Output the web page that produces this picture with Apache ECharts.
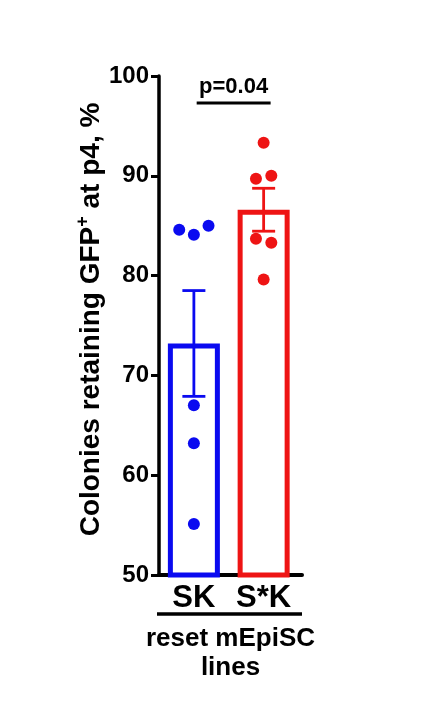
<!DOCTYPE html>
<html>
<head>
<meta charset="utf-8">
<script src="https://cdn.jsdelivr.net/npm/echarts@6/dist/echarts.min.js"></script>
<style>
html,body{margin:0;padding:0;background:#fff;}
#c{width:443px;height:711px;}
</style>
</head>
<body>
<div id="c"></div>
<script>
const categories = ['SK', 'S*K'];
const colors = ['#0a0af0', '#ee1414'];
const means = [73.2, 86.6];
const sems = [5.3, 2.15];
const skPoints = [84.6, 84.1, 85.0, 67.0, 63.2, 55.1];
const skOffsets = [-0.21, 0, 0.21, 0, 0, 0];
const sksPoints = [93.3, 89.7, 90.0, 83.7, 83.3, 79.6];
const sksOffsets = [0, -0.11, 0.11, -0.11, 0.11, 0];
const yTicks = [50, 60, 70, 80, 90, 100];
const pText = 'p=0.04';
const pBracket = [0.04, 1.1, 97.3];

const FONT = 'Liberation Sans';
const chart = echarts.init(document.getElementById('c'));

const scatterData = (pts, offs, idx) => pts.map((v, i) => [idx + offs[i], v]);

chart.setOption({
  animation: false,
  backgroundColor: '#fff',
  grid: { left: 159, right: 141, top: 76, bottom: 136 },
  xAxis: {
    type: 'value', min: -0.5, max: 1.55, interval: 0.5,
    splitLine: { show: false },
    axisLine: { show: true, onZero: false, lineStyle: { color: '#000', width: 4 } },
    axisTick: { show: false },
    axisLabel: {
      formatter: (v) => (Math.abs(v - Math.round(v)) < 1e-6 && categories[Math.round(v)] !== undefined && v >= 0) ? categories[Math.round(v)] : '',
      showMaxLabel: false,
      color: '#000', fontFamily: FONT, fontWeight: 'bold', fontSize: 31, margin: 8
    },
    name: 'reset mEpiSC\nlines', nameLocation: 'middle', nameGap: 49,
    nameTextStyle: { color: '#000', fontFamily: FONT, fontWeight: 'bold', fontSize: 26, lineHeight: 29 }
  },
  yAxis: {
    type: 'value', min: yTicks[0], max: yTicks[yTicks.length - 1], interval: 10,
    axisLine: { show: true, onZero: false, lineStyle: { color: '#000', width: 3.5 } },
    axisTick: { show: true, length: 8, lineStyle: { color: '#000', width: 3 } },
    splitLine: { show: false },
    axisLabel: { color: '#000', fontFamily: FONT, fontWeight: 'bold', fontSize: 24, margin: 10 },
    name: '{a|Colonies retaining GFP}{s|+}{a| at p4, %}',
    nameLocation: 'middle', nameGap: 46, nameRotate: 90,
    nameTextStyle: {
      padding: [0, 0, 0, 12],
      rich: {
        a: { color: '#000', fontFamily: FONT, fontWeight: 'bold', fontSize: 28 },
        s: { color: '#000', fontFamily: FONT, fontWeight: 'bold', fontSize: 18, padding: [0, 0, 16, 0] }
      }
    }
  },
  series: [
    {
      type: 'bar', barWidth: 52,
      data: means.map((m, i) => ({ value: [i, m], itemStyle: { color: 'rgba(255,255,255,0)', borderColor: colors[i], borderWidth: 5 } })),
      z: 2
    },
    {
      type: 'custom', z: 3,
      data: means.map((m, i) => [i, m - sems[i], m + sems[i]]),
      renderItem: (params, api) => {
        const i = api.value(0);
        const lo = api.coord([i, api.value(1)]);
        const hi = api.coord([i, api.value(2)]);
        const hw = 11.5;
        const style = { stroke: colors[i], lineWidth: 2.8 };
        return {
          type: 'group', children: [
            { type: 'line', shape: { x1: lo[0], y1: lo[1], x2: hi[0], y2: hi[1] }, style },
            { type: 'line', shape: { x1: lo[0] - hw, y1: lo[1], x2: lo[0] + hw, y2: lo[1] }, style },
            { type: 'line', shape: { x1: hi[0] - hw, y1: hi[1], x2: hi[0] + hw, y2: hi[1] }, style }
          ]
        };
      }
    },
    {
      type: 'scatter', symbolSize: 12, z: 4,
      itemStyle: { color: colors[0], opacity: 1 },
      data: scatterData(skPoints, skOffsets, 0)
    },
    {
      type: 'scatter', symbolSize: 12, z: 4,
      itemStyle: { color: colors[1], opacity: 1 },
      data: scatterData(sksPoints, sksOffsets, 1)
    },
    {
      type: 'custom', z: 5,
      data: [pBracket],
      renderItem: (params, api) => {
        const a = api.coord([api.value(0), api.value(2)]);
        const b = api.coord([api.value(1), api.value(2)]);
        return {
          type: 'group', children: [
            { type: 'line', shape: { x1: a[0], y1: a[1], x2: b[0], y2: b[1] }, style: { stroke: '#000', lineWidth: 3 } },
            { type: 'text', x: (a[0] + b[0]) / 2, y: a[1] - 5,
              style: { text: pText, fill: '#000', font: 'bold 22px "' + FONT + '"', textAlign: 'center', textVerticalAlign: 'bottom' } }
          ]
        };
      }
    }
  ],
  graphic: [
    { type: 'line', shape: { x1: 157, y1: 614, x2: 302, y2: 614 }, style: { stroke: '#000', lineWidth: 3.5 } }
  ]
});
</script>
</body>
</html>
